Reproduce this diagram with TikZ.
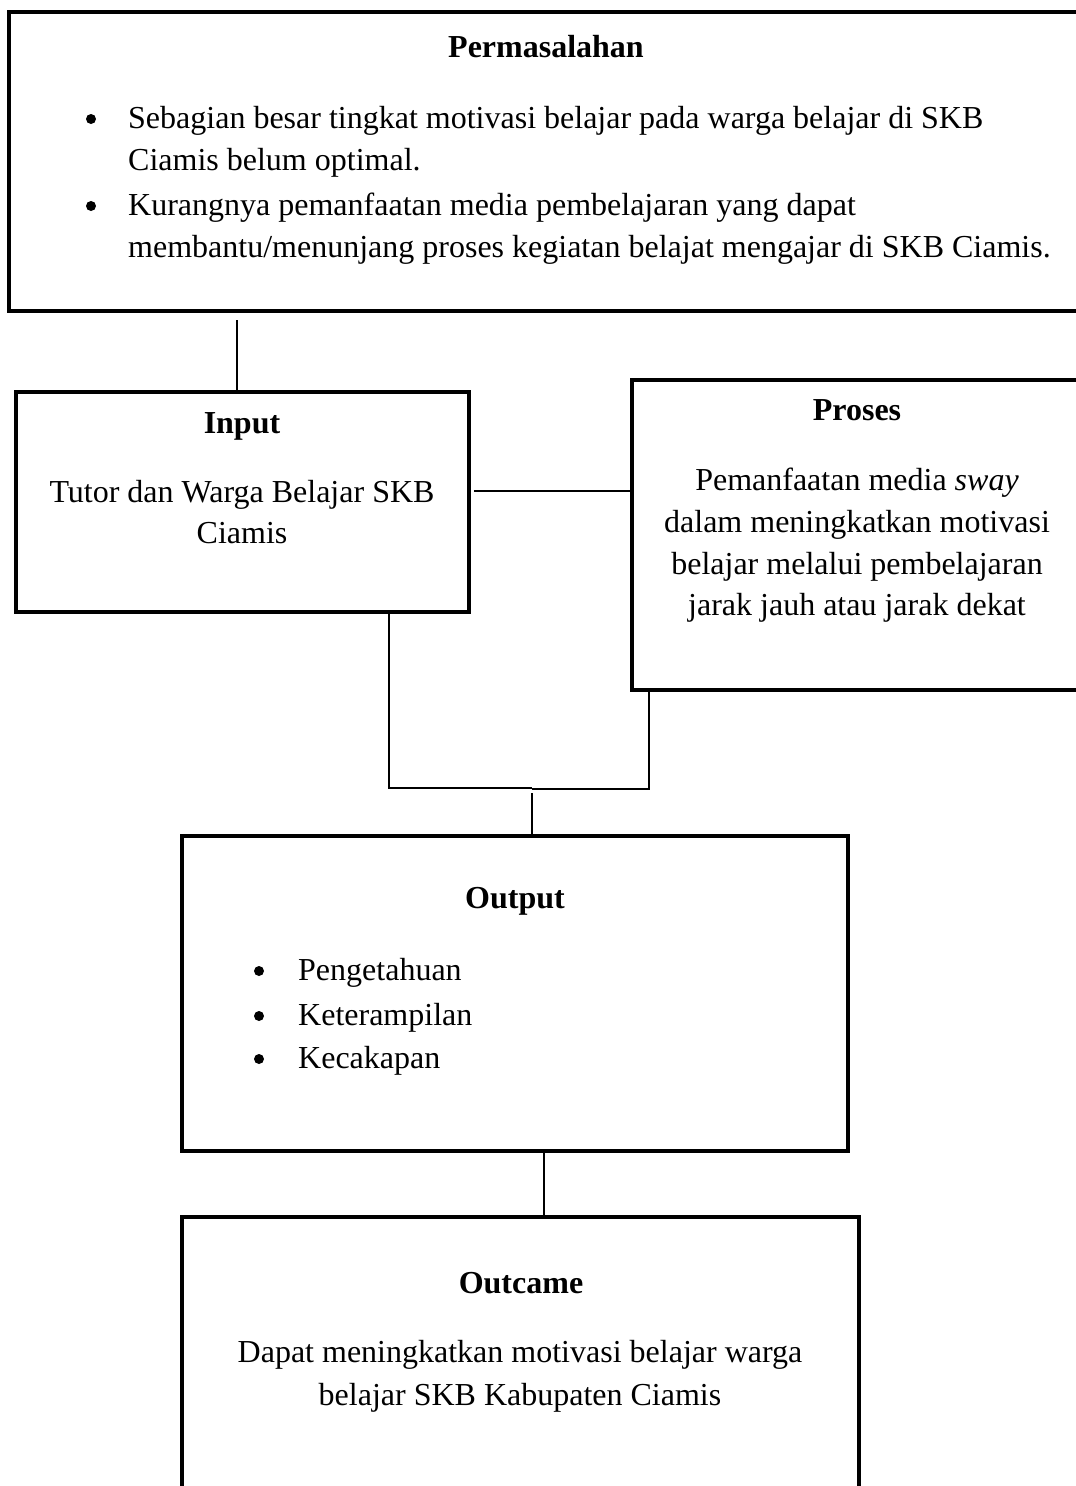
\documentclass[tikz,border=0pt]{standalone}
\usepackage{fontspec}
\setmainfont{Liberation Serif}
\begin{document}
\begin{tikzpicture}[x=1pt,y=-1pt,
  box/.style={draw,rectangle,line width=4.4pt,inner sep=0pt,line join=miter},
  conn/.style={line width=1.4pt},
  txt/.style={inner sep=0pt,anchor=base,font=\fontsize{32pt}{42pt}\selectfont},
  ltxt/.style={txt,anchor=base west},
  ttl/.style={txt,font=\fontsize{32pt}{42pt}\selectfont\bfseries},
  bul/.style={circle,fill=black,inner sep=0pt,minimum size=10pt}]
\useasboundingbox (0,0) rectangle (1076,1486);
\clip (0,0) rectangle (1076,1486);
% boxes
\node[box,minimum width=1091pt,minimum height=299pt] (perm) at (554.5,161.5) {};
\node[box,minimum width=453pt,minimum height=220pt] (inp) at (242.5,502) {};
\node[box,minimum width=468pt,minimum height=310pt] (pro) at (866,535) {};
\node[box,minimum width=666pt,minimum height=315pt] (outp) at (515,993.5) {};
\node[box,minimum width=677pt,minimum height=303pt] (outc) at (520.5,1368.5) {};
% Permasalahan
\node[ttl] (permt) at (546,57) {Permasalahan};
\node[bul] (pb1) at (91,119) {};
\node[ltxt] (p1a) at (128,128) {Sebagian besar tingkat motivasi belajar pada warga belajar di SKB};
\node[ltxt] (p1b) at (128,170) {Ciamis belum optimal.};
\node[bul] (pb2) at (91,206) {};
\node[ltxt] (p2a) at (128,215) {Kurangnya pemanfaatan media pembelajaran yang dapat};
\node[ltxt] (p2b) at (128,257) {membantu/menunjang proses kegiatan belajat mengajar di SKB Ciamis.};
% Input
\node[ttl] (inpt) at (242,433) {Input};
\node[txt] (inp1) at (242,502) {Tutor dan Warga Belajar SKB};
\node[txt] (inp2) at (242,543) {Ciamis};
% Proses
\node[ttl] (prot) at (857,420) {Proses};
\node[txt] (pro1) at (857,490) {Pemanfaatan media \textit{sway}};
\node[txt] (pro2) at (857,532) {dalam meningkatkan motivasi};
\node[txt] (pro3) at (857,574) {belajar melalui pembelajaran};
\node[txt] (pro4) at (857,615) {jarak jauh atau jarak dekat};
% Output
\node[ttl] (outt) at (515,908) {Output};
\node[bul] (ob1) at (259,971) {};
\node[ltxt] (o1) at (298,980) {Pengetahuan};
\node[bul] (ob2) at (259,1016) {};
\node[ltxt] (o2) at (298,1025) {Keterampilan};
\node[bul] (ob3) at (259,1059) {};
\node[ltxt] (o3) at (298,1068) {Kecakapan};
% Outcame
\node[ttl] (outct) at (521,1293) {Outcame};
\node[txt] (oc1) at (520,1362) {Dapat meningkatkan motivasi belajar warga};
\node[txt] (oc2) at (520,1405) {belajar SKB Kabupaten Ciamis};
% connectors
\coordinate (c1) at (237,320);
\draw[conn] (c1) -- (c1 |- inp.north);
\coordinate (c2) at (474,491);
\draw[conn] (c2) -- (c2 -| pro.west);
\coordinate (c3) at (389,612);
\coordinate (j1) at (532,788);
\draw[conn] (c3) |- (j1);
\coordinate (c4) at (649,690);
\coordinate (j2) at (532,789);
\draw[conn] (c4) |- (j2);
\coordinate (c5) at (532,793);
\draw[conn] (c5) -- (c5 |- outp.north);
\coordinate (c6) at (544,1151);
\draw[conn] (c6) -- (c6 |- outc.north);
\end{tikzpicture}
\end{document}
